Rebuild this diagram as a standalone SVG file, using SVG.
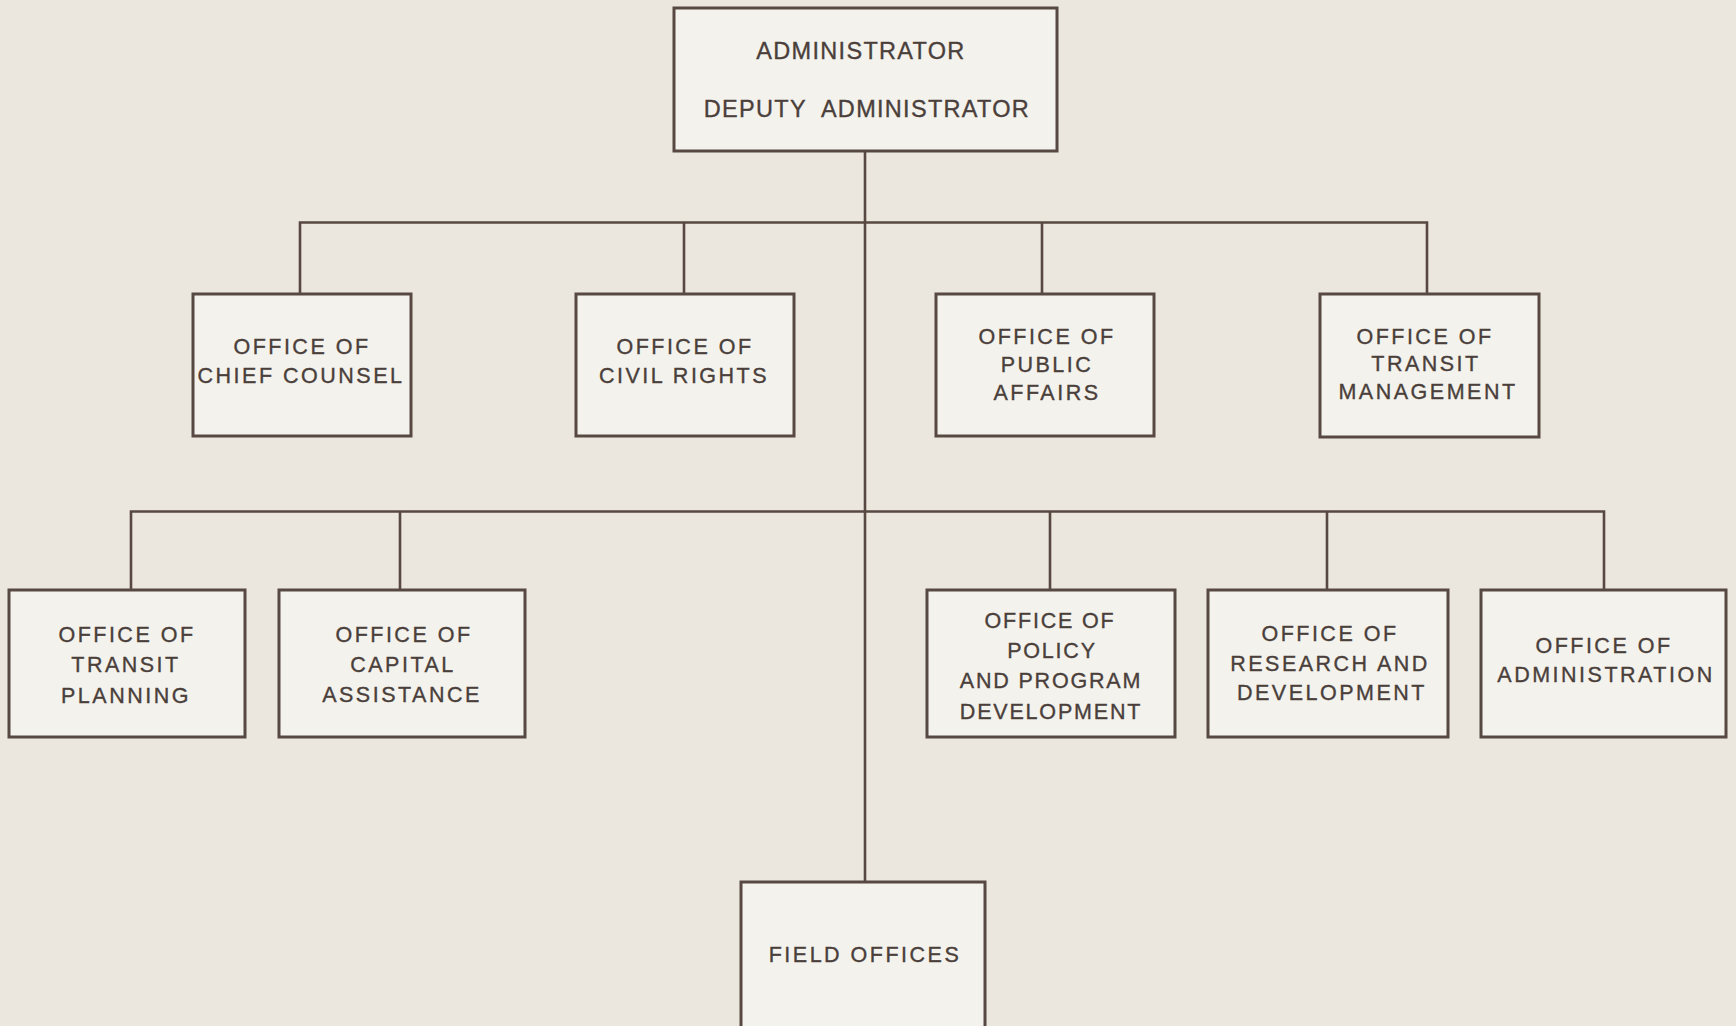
<svg xmlns="http://www.w3.org/2000/svg" width="1736" height="1026" viewBox="0 0 1736 1026">
  <style>
    .bg { fill: #ebe7df; }
    .box { fill: #f4f2ec; stroke: #574842; stroke-width: 3; }
    .wire { fill: none; stroke: #574842; stroke-width: 2.6; }
    .lbl { font-family: "Liberation Sans", Arial, sans-serif; font-size: 21.5px; fill: #4a3f3b; stroke: #4a3f3b; stroke-width: 0.35px; text-anchor: middle; letter-spacing: 2.5px; }
    .head { letter-spacing: 1.3px; font-size: 23.5px; }
    .tight { letter-spacing: 1.8px; }
  </style>
  <rect class="bg" x="0" y="0" width="1736" height="1026"/>

  <!-- reporting lines -->
  <g id="connectors">
    <path class="wire" d="M865 151 V882"/>
    <path class="wire" d="M300 294 V222.5 H1427 V294"/>
    <path class="wire" d="M684 222.5 V294"/>
    <path class="wire" d="M1042 222.5 V294"/>
    <path class="wire" d="M131 590 V511.5 H1604 V590"/>
    <path class="wire" d="M400 511.5 V590"/>
    <path class="wire" d="M1050 511.5 V590"/>
    <path class="wire" d="M1327 511.5 V590"/>
  </g>

  <g id="administrator">
    <rect class="box" x="674" y="8" width="383" height="143"/>
    <text class="lbl head" x="861" y="59">ADMINISTRATOR</text>
    <text class="lbl head" x="867" y="117" xml:space="preserve">DEPUTY  ADMINISTRATOR</text>
  </g>

  <g id="chief-counsel">
    <rect class="box" x="193" y="294" width="218" height="142"/>
    <text class="lbl" x="302" y="354">OFFICE OF</text>
    <text class="lbl" x="301" y="383">CHIEF COUNSEL</text>
  </g>

  <g id="civil-rights">
    <rect class="box" x="576" y="294" width="218" height="142"/>
    <text class="lbl" x="685" y="354">OFFICE OF</text>
    <text class="lbl" x="684" y="383">CIVIL RIGHTS</text>
  </g>

  <g id="public-affairs">
    <rect class="box" x="936" y="294" width="218" height="142"/>
    <text class="lbl" x="1047" y="344">OFFICE OF</text>
    <text class="lbl" x="1047" y="372">PUBLIC</text>
    <text class="lbl" x="1047" y="400">AFFAIRS</text>
  </g>

  <g id="transit-management">
    <rect class="box" x="1320" y="294" width="219" height="143"/>
    <text class="lbl" x="1425" y="344">OFFICE OF</text>
    <text class="lbl" x="1426" y="371">TRANSIT</text>
    <text class="lbl" x="1428" y="399">MANAGEMENT</text>
  </g>

  <g id="transit-planning">
    <rect class="box" x="9" y="590" width="236" height="147"/>
    <text class="lbl" x="127" y="642">OFFICE OF</text>
    <text class="lbl" x="126" y="672">TRANSIT</text>
    <text class="lbl" x="126" y="703">PLANNING</text>
  </g>

  <g id="capital-assistance">
    <rect class="box" x="279" y="590" width="246" height="147"/>
    <text class="lbl" x="404" y="642">OFFICE OF</text>
    <text class="lbl" x="403" y="672">CAPITAL</text>
    <text class="lbl" x="402" y="702">ASSISTANCE</text>
  </g>

  <g id="policy-program">
    <rect class="box" x="927" y="590" width="248" height="147"/>
    <text class="lbl tight" x="1050" y="628">OFFICE OF</text>
    <text class="lbl tight" x="1052" y="658">POLICY</text>
    <text class="lbl tight" x="1051" y="688">AND PROGRAM</text>
    <text class="lbl tight" x="1051" y="719">DEVELOPMENT</text>
  </g>

  <g id="research-development">
    <rect class="box" x="1208" y="590" width="240" height="147"/>
    <text class="lbl" x="1330" y="641">OFFICE OF</text>
    <text class="lbl" x="1330" y="671">RESEARCH AND</text>
    <text class="lbl" x="1332" y="700">DEVELOPMENT</text>
  </g>

  <g id="administration">
    <rect class="box" x="1481" y="590" width="245" height="147"/>
    <text class="lbl" x="1604" y="653">OFFICE OF</text>
    <text class="lbl" x="1606" y="682">ADMINISTRATION</text>
  </g>

  <g id="field-offices">
    <rect class="box" x="741" y="882" width="244" height="160"/>
    <text class="lbl" x="865" y="962">FIELD OFFICES</text>
  </g>
</svg>
